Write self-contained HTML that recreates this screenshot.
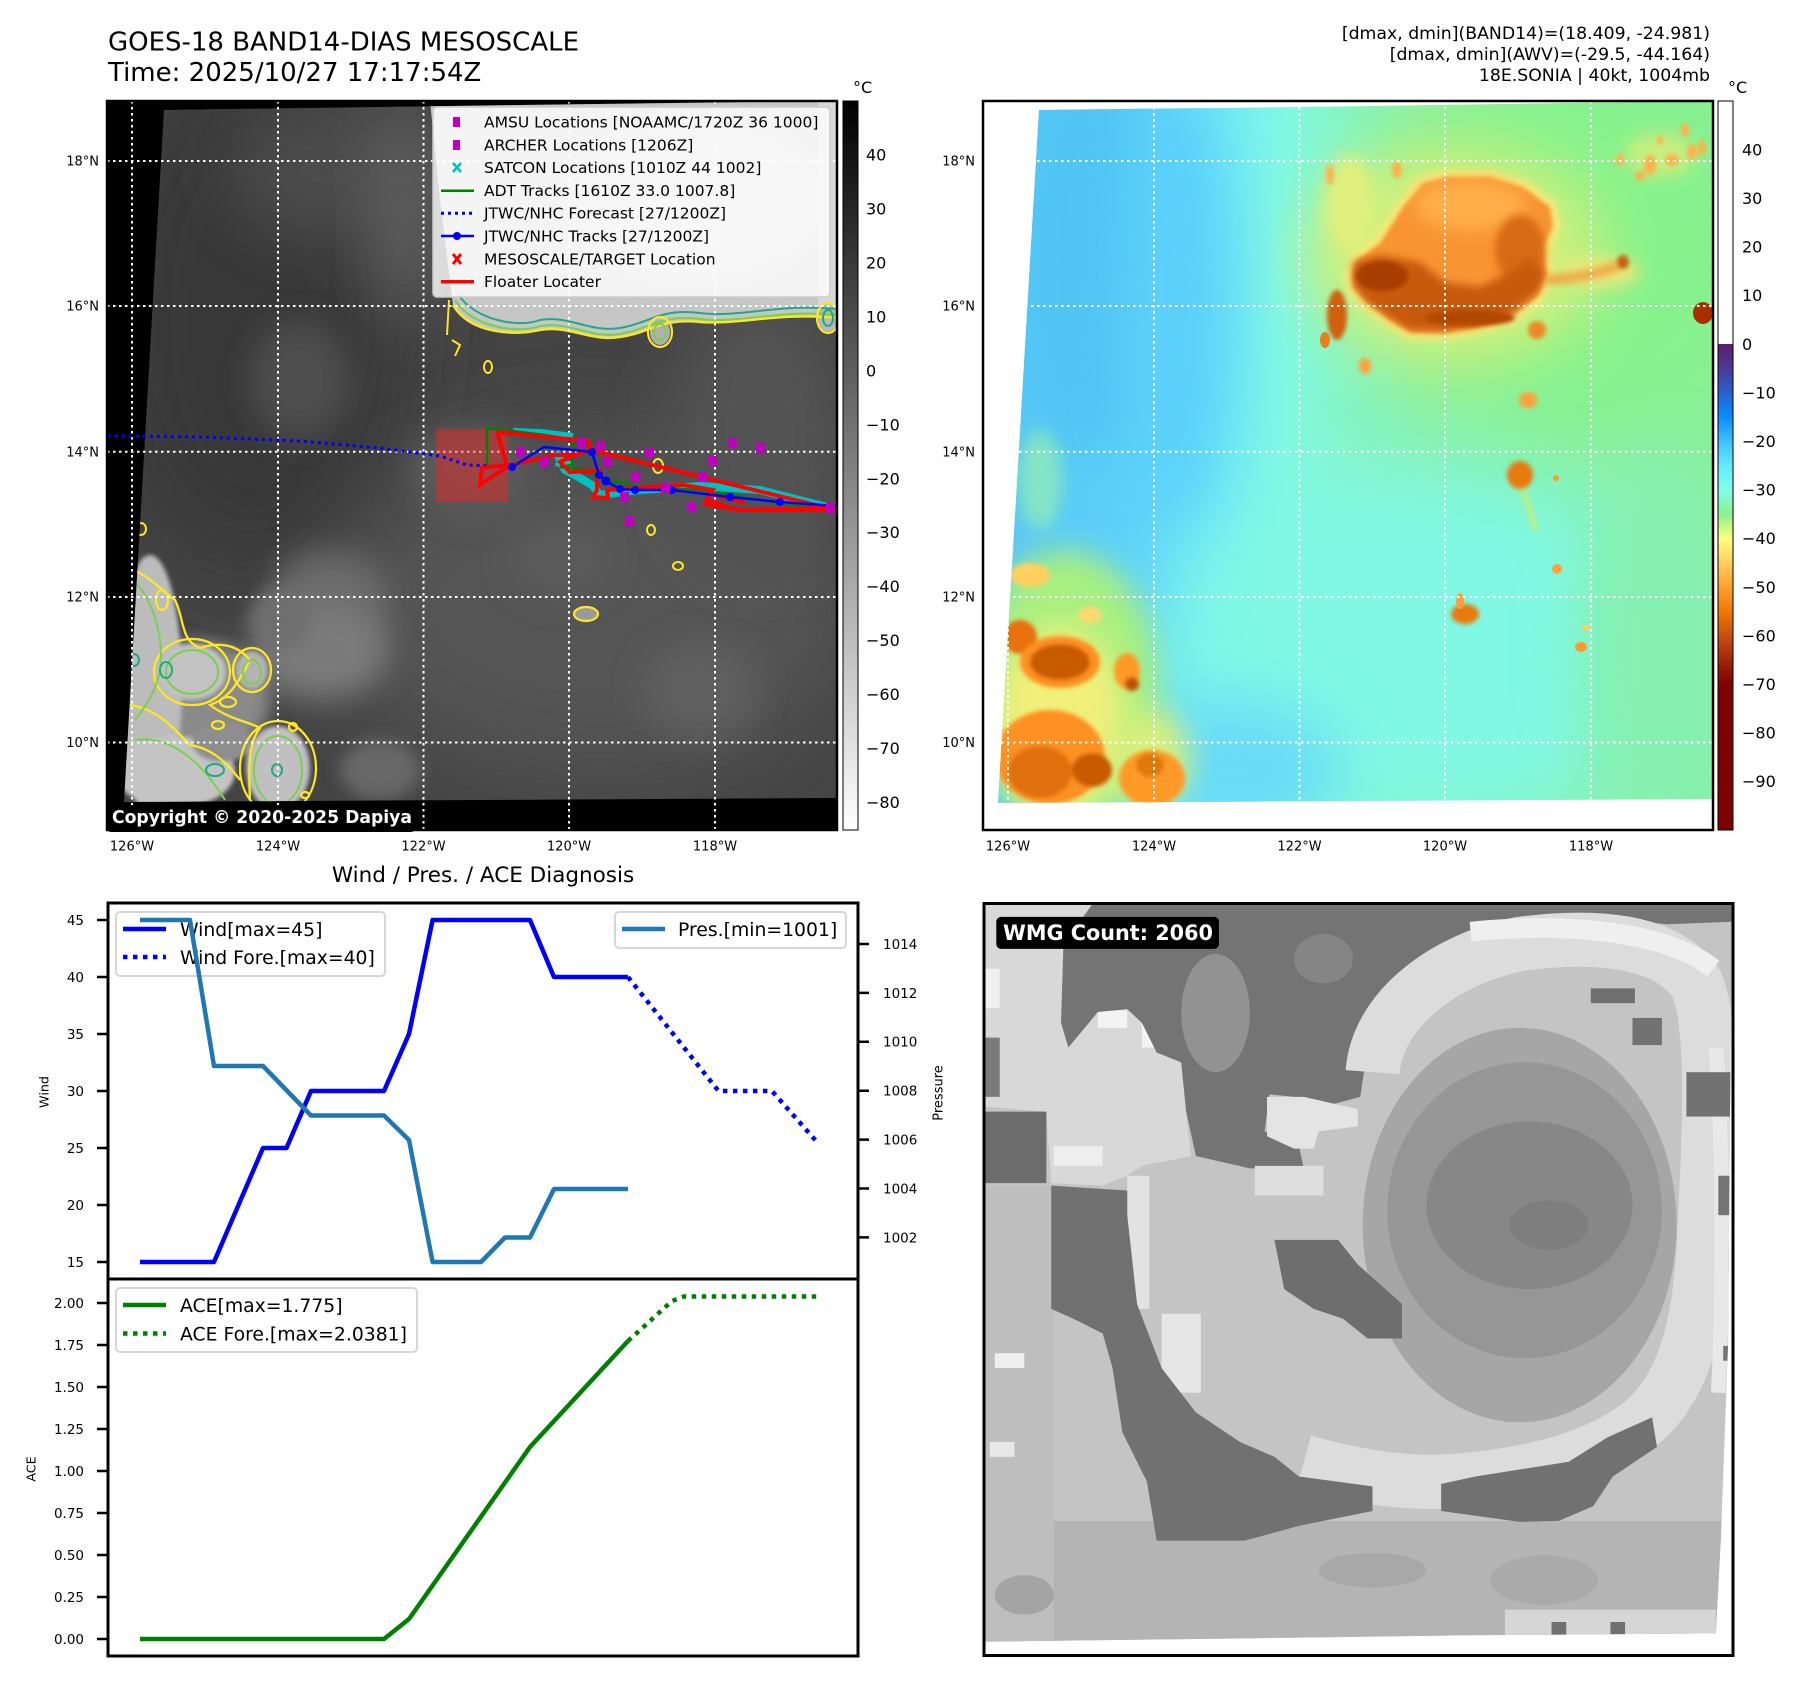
<!DOCTYPE html>
<html><head><meta charset="utf-8">
<style>
html,body{margin:0;padding:0;background:#fff;}
svg{display:block;}
text{font-family:"DejaVu Sans","Liberation Sans",sans-serif;}
</style></head><body>
<svg width="1801" height="1690" viewBox="0 0 1801 1690" xmlns="http://www.w3.org/2000/svg">
<defs>
  <filter id="b2" x="-50%" y="-50%" width="200%" height="200%"><feGaussianBlur stdDeviation="2"/></filter>
  <filter id="b4" x="-50%" y="-50%" width="200%" height="200%"><feGaussianBlur stdDeviation="4"/></filter>
  <filter id="b8" x="-50%" y="-50%" width="200%" height="200%"><feGaussianBlur stdDeviation="8"/></filter>
  <filter id="b15" x="-50%" y="-50%" width="200%" height="200%"><feGaussianBlur stdDeviation="15"/></filter>
  <filter id="b30" x="-50%" y="-50%" width="200%" height="200%"><feGaussianBlur stdDeviation="30"/></filter>
  <filter id="b45" x="-60%" y="-60%" width="220%" height="220%"><feGaussianBlur stdDeviation="45"/></filter>
  <clipPath id="c1"><polygon points="164,110 520,105 837,101 837,798 124,802"/></clipPath>
  <clipPath id="c2"><polygon points="1039,110 1300,107 1712,101 1712,799 998,803"/></clipPath>
  <clipPath id="cw"><polygon points="8,8 1535,8 1530,300 1525,900 1510,1300 1500,1488 1000,1492 400,1500 8,1505"/></clipPath>
  <linearGradient id="gcb1" x1="0" y1="0" x2="0" y2="1">
    <stop offset="0" stop-color="#000"/><stop offset="1" stop-color="#fff"/>
  </linearGradient>
  <linearGradient id="gcb2" x1="0" y1="0" x2="0" y2="1">
    <stop offset="0" stop-color="#fff"/><stop offset="0.333" stop-color="#fff"/>
    <stop offset="0.3334" stop-color="#5c1c6c"/>
    <stop offset="0.3667" stop-color="#4b3a98"/>
    <stop offset="0.4" stop-color="#2a60cc"/>
    <stop offset="0.4333" stop-color="#0a8cff"/>
    <stop offset="0.4667" stop-color="#40c0ff"/>
    <stop offset="0.5" stop-color="#66e8ff"/>
    <stop offset="0.5333" stop-color="#80ffe8"/>
    <stop offset="0.5667" stop-color="#8cf08c"/>
    <stop offset="0.6" stop-color="#ffff80"/>
    <stop offset="0.6333" stop-color="#ffd060"/>
    <stop offset="0.6667" stop-color="#ffa030"/>
    <stop offset="0.7" stop-color="#f07800"/>
    <stop offset="0.7333" stop-color="#c85010"/>
    <stop offset="0.7667" stop-color="#a02808"/>
    <stop offset="0.8" stop-color="#800000"/>
    <stop offset="1" stop-color="#800000"/>
  </linearGradient>
  <linearGradient id="gwv" gradientUnits="userSpaceOnUse" x1="998" y1="0" x2="1712" y2="0">
    <stop offset="0" stop-color="#58c6f4"/>
    <stop offset="0.2" stop-color="#5ed2fa"/>
    <stop offset="0.3" stop-color="#72ecf6"/>
    <stop offset="0.4" stop-color="#80f8e4"/>
    <stop offset="0.5" stop-color="#86f4c0"/>
    <stop offset="0.6" stop-color="#8cf0a4"/>
    <stop offset="1" stop-color="#88f09a"/>
  </linearGradient>
</defs>
<rect width="1801" height="1690" fill="#fff"/>

<!-- Titles -->
<text x="108" y="50.5" font-size="26" textLength="471" lengthAdjust="spacingAndGlyphs">GOES-18 BAND14-DIAS MESOSCALE</text>
<text x="108" y="81" font-size="26">Time: 2025/10/27 17:17:54Z</text>
<text x="1710" y="39" font-size="17.3" text-anchor="end">[dmax, dmin](BAND14)=(18.409, -24.981)</text>
<text x="1710" y="60" font-size="17.3" text-anchor="end">[dmax, dmin](AWV)=(-29.5, -44.164)</text>
<text x="1710" y="81" font-size="17.3" text-anchor="end">18E.SONIA | 40kt, 1004mb</text>

<!-- ================= MAP 1 ================= -->
<rect x="107" y="101" width="730" height="729" fill="#000"/>
<g clip-path="url(#c1)">
  <rect x="100" y="95" width="740" height="712" fill="#444"/>
  <ellipse cx="250" cy="320" rx="150" ry="250" fill="#393939" filter="url(#b45)"/>
  <ellipse cx="330" cy="170" rx="100" ry="70" fill="#4b4b4b" filter="url(#b30)"/>
  <ellipse cx="600" cy="610" rx="260" ry="170" fill="#545454" filter="url(#b45)"/>
  <ellipse cx="760" cy="430" rx="90" ry="140" fill="#535353" filter="url(#b30)"/>
  <ellipse cx="470" cy="470" rx="60" ry="45" fill="#5c5c5c" filter="url(#b15)"/>
  <ellipse cx="300" cy="380" rx="50" ry="60" fill="#4e4e4e" filter="url(#b15)"/>
  <ellipse cx="405" cy="210" rx="35" ry="110" fill="#5e5e5e" filter="url(#b30)"/>
  <ellipse cx="700" cy="690" rx="60" ry="50" fill="#5e5e5e" filter="url(#b15)"/>
  <ellipse cx="560" cy="560" rx="50" ry="40" fill="#5a5a5a" filter="url(#b15)"/>
  <ellipse cx="330" cy="600" rx="60" ry="50" fill="#6a6a6a" filter="url(#b15)"/>
  <!-- bright cloud mass upper right -->
  <path d="M430,101 L837,101 L837,318 C780,312 740,325 700,322 C660,318 650,333 620,337 C590,342 570,325 540,330 C515,336 470,334 453,305 L440,200 Z" fill="#c6c6c6"/>
  <ellipse cx="700" cy="200" rx="130" ry="80" fill="#d4d4d4" filter="url(#b15)"/>
  <rect x="818" y="101" width="19" height="215" fill="#d8d8d8"/>
  <ellipse cx="660" cy="332" rx="10" ry="13" fill="#b0b0b0"/>
  <ellipse cx="828" cy="318" rx="10" ry="14" fill="#b8b8b8"/>
  <path d="M458,294 C475,321 520,328 540,320 C570,315 590,333 620,328 C650,323 660,308 700,313 C740,318 780,303 837,309" fill="none" stroke="#22a884" stroke-width="2"/>
  <path d="M455,300 C472,328 520,334 540,326 C570,321 590,339 620,334 C650,329 660,314 700,319 C740,324 780,309 837,315" fill="none" stroke="#7ad151" stroke-width="2.2"/>
  <path d="M453,305 C470,334 515,336 540,330 C570,325 590,342 620,337 C650,333 660,318 700,322 C740,325 780,312 837,318" fill="none" stroke="#fde725" stroke-width="2.4"/>
  <path d="M449,300 L447,335 M452,340 L460,345 L455,356" fill="none" stroke="#fde725" stroke-width="2"/>
  <ellipse cx="660" cy="332" rx="12" ry="15" fill="none" stroke="#fde725" stroke-width="2.2"/>
  <ellipse cx="660" cy="332" rx="6" ry="8" fill="none" stroke="#7ad151" stroke-width="2"/>
  <ellipse cx="828" cy="318" rx="11" ry="15" fill="none" stroke="#fde725" stroke-width="2.2"/>
  <ellipse cx="828" cy="318" rx="5" ry="8" fill="none" stroke="#22a884" stroke-width="2"/>
  <ellipse cx="488" cy="367" rx="4" ry="6" fill="none" stroke="#fde725" stroke-width="2"/>
  <ellipse cx="586" cy="614" rx="12" ry="7" fill="#9a9a9a" stroke="#fde725" stroke-width="2.2"/>
  <ellipse cx="651" cy="530" rx="4" ry="5" fill="none" stroke="#fde725" stroke-width="2"/>
  <ellipse cx="678" cy="566" rx="5" ry="4" fill="none" stroke="#fde725" stroke-width="2"/>
  <ellipse cx="141" cy="529" rx="5" ry="6" fill="none" stroke="#fde725" stroke-width="2"/>
  <ellipse cx="658" cy="466" rx="5" ry="7" fill="none" stroke="#fde725" stroke-width="2"/>
  <!-- bottom-left clouds -->
  <ellipse cx="320" cy="650" rx="70" ry="50" fill="#7a7a7a" filter="url(#b15)"/>
  <ellipse cx="380" cy="770" rx="40" ry="30" fill="#686868" filter="url(#b8)"/>
  <ellipse cx="280" cy="620" rx="30" ry="30" fill="#6e6e6e" filter="url(#b8)"/>
  <ellipse cx="200" cy="700" rx="70" ry="60" fill="#8a8a8a" filter="url(#b8)"/>
  <g filter="url(#b2)">
    <ellipse cx="150" cy="685" rx="32" ry="130" fill="#bcbcbc"/>
    <ellipse cx="192" cy="672" rx="34" ry="28" fill="#c2c2c2"/>
    <ellipse cx="175" cy="772" rx="60" ry="36" fill="#c4c4c4"/>
    <ellipse cx="278" cy="768" rx="32" ry="42" fill="#c0c0c0"/>
    <ellipse cx="252" cy="670" rx="16" ry="19" fill="#b4b4b4"/>
    <ellipse cx="222" cy="742" rx="30" ry="20" fill="#8e8e8e"/>
  </g>
  <g fill="none" stroke="#fde725" stroke-width="2.3">
    <path d="M128,568 C150,575 160,590 175,600 C185,620 180,640 200,648 C225,640 240,648 250,660 C235,690 225,700 210,705 C230,720 250,722 260,728 C250,740 248,760 250,800"/>
    <ellipse cx="192" cy="672" rx="38" ry="33"/>
    <ellipse cx="278" cy="768" rx="38" ry="47"/>
    <ellipse cx="252" cy="670" rx="19" ry="22"/>
    <path d="M130,705 C160,710 175,730 190,745 C210,748 225,760 240,780"/>
    <ellipse cx="228" cy="702" rx="8" ry="5"/>
    <ellipse cx="218" cy="725" rx="6" ry="4"/>
    <ellipse cx="293" cy="727" rx="4" ry="4"/>
    <ellipse cx="305" cy="795" rx="4" ry="3"/>
    <ellipse cx="162" cy="600" rx="6" ry="10"/>
  </g>
  <g fill="none" stroke="#7ad151" stroke-width="2">
    <path d="M132,580 C145,590 155,610 160,640 C165,680 150,700 135,720"/>
    <ellipse cx="192" cy="672" rx="26" ry="22"/>
    <ellipse cx="278" cy="770" rx="24" ry="34"/>
    <ellipse cx="252" cy="672" rx="9" ry="12"/>
    <path d="M135,740 C170,735 200,760 225,800"/>
  </g>
  <g fill="none" stroke="#22a884" stroke-width="2">
    <ellipse cx="166" cy="670" rx="6" ry="8"/>
    <ellipse cx="215" cy="770" rx="9" ry="6"/>
    <ellipse cx="277" cy="770" rx="5" ry="6"/>
    <ellipse cx="134" cy="660" rx="5" ry="6"/>
  </g>
</g>
<g stroke="#fff" stroke-width="2" stroke-dasharray="2.5 3.5" fill="none">
  <path d="M132,101 V830 M278,101 V830 M423.5,101 V830 M569,101 V830 M715,101 V830"/>
  <path d="M107,161 H837 M107,306 H837 M107,451.7 H837 M107,597 H837 M107,742.5 H837"/>
</g>
<rect x="436" y="429" width="72" height="73" fill="#ff2020" fill-opacity="0.42"/>
<path d="M513,432 L540,433 L573,437 M556,452 L565,470 L580,478 L592,485 L600,495 L640,490 L700,486 L760,490 L835,509 M556,462 L572,466" fill="none" stroke="#00c0c0" stroke-width="8" stroke-linejoin="round"/>
<path d="M487,465 L487,428 L545,435 L575,440 L572,465 L560,467 L587,470 L600,478 L640,487 L700,490 L760,500 L800,506 L836,508" fill="none" stroke="#008000" stroke-width="2.5"/>
<path d="M108,436 L200,437 L300,441 L380,448 L440,456 L467,465 L512,467" fill="none" stroke="#0000ff" stroke-width="3" stroke-dasharray="3 4"/>
<g stroke="#ff0000" stroke-width="4" fill="none" stroke-linejoin="miter">
  <path d="M497,432 L588,441 L591,450 L836,510 L740,510 L705,504 L710,494 L745,503"/>
  <path d="M575,455 L560,462 L570,472 L600,471 L597,480 L597,490 L593,497 L608,498 L607,490 L633,488 L683,485 L713,490 L707,500 L737,510 L836,508"/>
  <path d="M497,432 L507,465 L482,468 L480,485 L490,478 L510,465 L555,455 L575,455 L590,450"/>
</g>
<g fill="none" stroke="#0000ff" stroke-width="2.5">
  <path d="M512,467 L544,447 L592,452 L599,475 L606,481 L620,489 L635,490 L672,490 L730,497 L780,502 L836,506"/>
</g>
<g fill="#0000ff">
  <circle cx="512" cy="467" r="4"/><circle cx="592" cy="452" r="4"/><circle cx="599" cy="475" r="4"/>
  <circle cx="606" cy="481" r="4.5"/><circle cx="620" cy="489" r="4"/><circle cx="635" cy="490" r="4"/>
  <circle cx="672" cy="490" r="4"/><circle cx="730" cy="497" r="4"/><circle cx="780" cy="502" r="4"/>
</g>
<g fill="#bf00bf">
  <rect x="516" y="447" width="9" height="10"/><rect x="540" y="457" width="9" height="10"/>
  <rect x="577" y="438" width="9" height="10"/><rect x="596" y="441" width="9" height="10"/>
  <rect x="603" y="457" width="9" height="10"/><rect x="631" y="472" width="9" height="10"/>
  <rect x="645" y="448" width="9" height="10"/><rect x="620" y="492" width="9" height="10"/>
  <rect x="625" y="516" width="9" height="10"/><rect x="661" y="483" width="9" height="10"/>
  <rect x="687" y="502" width="9" height="10"/><rect x="698" y="472" width="9" height="10"/>
  <rect x="708" y="456" width="9" height="10"/><rect x="728" y="438" width="9" height="10"/>
  <rect x="756" y="443" width="9" height="10"/><rect x="826" y="503" width="9" height="10"/>
</g>
<rect x="433" y="107" width="397" height="190" rx="4" fill="#fff" fill-opacity="0.8" stroke="#cccccc" stroke-width="1.5"/>
<g font-size="15.5" fill="#000">
  <text x="484" y="127.5">AMSU Locations [NOAAMC/1720Z 36 1000]</text>
  <text x="484" y="150.5">ARCHER Locations [1206Z]</text>
  <text x="484" y="173">SATCON Locations [1010Z 44 1002]</text>
  <text x="484" y="196">ADT Tracks [1610Z 33.0 1007.8]</text>
  <text x="484" y="218.5">JTWC/NHC Forecast [27/1200Z]</text>
  <text x="484" y="241.5">JTWC/NHC Tracks [27/1200Z]</text>
  <text x="484" y="264.5">MESOSCALE/TARGET Location</text>
  <text x="484" y="287">Floater Locater</text>
</g>
<rect x="453" y="117" width="7" height="10" fill="#bf00bf"/>
<rect x="453" y="140" width="7" height="10" fill="#bf00bf"/>
<path d="M453,163 L461,172 M461,163 L453,172" stroke="#00c0c0" stroke-width="2.5"/>
<path d="M441,190.7 H474" stroke="#008000" stroke-width="2.5"/>
<path d="M441,213.3 H474" stroke="#0000ff" stroke-width="3" stroke-dasharray="3 4"/>
<path d="M441,236 H474" stroke="#0000ff" stroke-width="2.5"/><circle cx="457" cy="236" r="4" fill="#0000ff"/>
<path d="M453,254 L461,264 M461,254 L453,264" stroke="#ff0000" stroke-width="3"/>
<path d="M441,281.7 H474" stroke="#ff0000" stroke-width="3.5"/>
<rect x="107" y="805" width="308" height="27" rx="4" fill="#000"/>
<text x="112" y="823" font-size="18" font-weight="bold" fill="#fff" textLength="300" lengthAdjust="spacingAndGlyphs">Copyright © 2020-2025 Dapiya</text>
<rect x="107" y="101" width="730" height="729" fill="none" stroke="#000" stroke-width="2.5"/>
<g font-size="13" fill="#000">
  <text x="99" y="165.7" text-anchor="end">18°N</text>
  <text x="99" y="310.7" text-anchor="end">16°N</text>
  <text x="99" y="456.4" text-anchor="end">14°N</text>
  <text x="99" y="601.7" text-anchor="end">12°N</text>
  <text x="99" y="747.2" text-anchor="end">10°N</text>
  <text x="132" y="850.7" text-anchor="middle">126°W</text>
  <text x="278" y="850.7" text-anchor="middle">124°W</text>
  <text x="423.5" y="850.7" text-anchor="middle">122°W</text>
  <text x="569" y="850.7" text-anchor="middle">120°W</text>
  <text x="715" y="850.7" text-anchor="middle">118°W</text>
</g>
<rect x="843" y="101" width="15" height="729" fill="url(#gcb1)" stroke="#000" stroke-width="1"/>
<text x="853" y="93" font-size="16">°C</text>
<g font-size="16" fill="#000">
  <text x="866" y="160.7">40</text><text x="866" y="214.7">30</text><text x="866" y="268.6">20</text>
  <text x="866" y="322.5">10</text><text x="866" y="376.5">0</text><text x="866" y="430.4">−10</text>
  <text x="866" y="484.3">−20</text><text x="866" y="538.2">−30</text><text x="866" y="592.2">−40</text>
  <text x="866" y="646.1">−50</text><text x="866" y="700">−60</text><text x="866" y="753.9">−70</text>
  <text x="866" y="807.9">−80</text>
</g>

<!-- ================= MAP 2 ================= -->
<rect x="983" y="101" width="730" height="729" fill="#fff"/>
<g clip-path="url(#c2)">
  <rect x="990" y="95" width="730" height="712" fill="url(#gwv)"/>
  <ellipse cx="1430" cy="650" rx="260" ry="190" fill="#80f8e4" filter="url(#b45)"/>
  <ellipse cx="1230" cy="770" rx="110" ry="70" fill="#68dcf8" filter="url(#b30)"/>
  <ellipse cx="1090" cy="260" rx="80" ry="200" fill="#50c4f4" filter="url(#b30)"/>
  <ellipse cx="1175" cy="300" rx="55" ry="230" fill="#5ad0fa" filter="url(#b30)"/>
  <ellipse cx="1580" cy="240" rx="190" ry="190" fill="#86f28c" filter="url(#b45)"/>
  <ellipse cx="1660" cy="650" rx="80" ry="200" fill="#86f0b0" filter="url(#b30)"/>
  <ellipse cx="1455" cy="255" rx="150" ry="110" fill="#d0f07c" filter="url(#b30)"/>
  <ellipse cx="1065" cy="690" rx="95" ry="140" fill="#a8f080" filter="url(#b15)"/>
  <ellipse cx="1060" cy="720" rx="65" ry="95" fill="#f0f07a" filter="url(#b15)"/>
  <ellipse cx="1150" cy="760" rx="40" ry="50" fill="#d8f07a" filter="url(#b15)"/>
  <ellipse cx="1040" cy="480" rx="22" ry="50" fill="#98f0b0" opacity="0.7" filter="url(#b8)"/>
  <ellipse cx="1660" cy="155" rx="35" ry="22" fill="#d8ee7c" opacity="0.8" filter="url(#b8)"/>
  <ellipse cx="1350" cy="205" rx="25" ry="50" fill="#e0f07c" filter="url(#b8)"/>
  <ellipse cx="1600" cy="272" rx="40" ry="14" fill="#f0e878" filter="url(#b8)"/>
  <!-- main convective blob -->
  <path d="M1352,273 L1357,260 L1380,243 L1403,207 L1423,183 L1447,177 L1490,177 L1523,187 L1550,207 L1553,227 L1543,247 L1547,273 L1537,297 L1510,317 L1477,327 L1443,333 L1410,332 L1390,320 L1367,303 L1353,287 Z" fill="none" stroke="#f8e878" stroke-width="14" filter="url(#b4)"/>
  <path d="M1352,273 L1357,260 L1380,243 L1403,207 L1423,183 L1447,177 L1490,177 L1523,187 L1550,207 L1553,227 L1543,247 L1547,273 L1537,297 L1510,317 L1477,327 L1443,333 L1410,332 L1390,320 L1367,303 L1353,287 Z" fill="#f89430" filter="url(#b2)"/>
  <path d="M1545,280 C1570,279 1595,275 1620,265" stroke="#f0a040" stroke-width="9" fill="none" filter="url(#b4)"/>
  <ellipse cx="1470" cy="205" rx="55" ry="25" fill="#ffae48" filter="url(#b8)"/>
  <ellipse cx="1520" cy="250" rx="25" ry="35" fill="#d86a14" filter="url(#b4)"/>
  <path d="M1353,262 L1380,255 L1420,262 L1445,282 L1480,287 L1510,272 L1530,258 L1545,272 L1540,290 L1510,315 L1477,326 L1443,331 L1410,330 L1390,318 L1367,302 L1354,286 Z" fill="#c85a0c" filter="url(#b4)"/>
  <ellipse cx="1382" cy="276" rx="26" ry="15" fill="#a83c00" filter="url(#b2)"/>
  <ellipse cx="1470" cy="318" rx="45" ry="8" fill="#b04800" filter="url(#b2)"/>
  <ellipse cx="1623" cy="262" rx="6" ry="7" fill="#c86010" filter="url(#b2)"/>
  <ellipse cx="1337" cy="315" rx="10" ry="25" fill="#d06010" filter="url(#b2)"/>
  <ellipse cx="1325" cy="340" rx="5" ry="8" fill="#e88020"/>
  <ellipse cx="1703" cy="313" rx="10" ry="11" fill="#a83000"/>
  <ellipse cx="1537" cy="330" rx="9" ry="9" fill="#f08828" filter="url(#b2)"/>
  <ellipse cx="1365" cy="366" rx="6" ry="8" fill="#ffa040" filter="url(#b2)"/>
  <ellipse cx="1528" cy="400" rx="9" ry="8" fill="#ffa040" filter="url(#b2)"/>
  <g fill="#ffb048" filter="url(#b2)">
    <ellipse cx="1650" cy="165" rx="6" ry="10"/><ellipse cx="1672" cy="160" rx="7" ry="6"/>
    <ellipse cx="1692" cy="152" rx="5" ry="8"/><ellipse cx="1640" cy="176" rx="5" ry="5"/>
    <ellipse cx="1702" cy="148" rx="4" ry="8"/><ellipse cx="1620" cy="160" rx="4" ry="6"/>
    <ellipse cx="1397" cy="170" rx="5" ry="8"/><ellipse cx="1330" cy="175" rx="4" ry="10"/>
    <ellipse cx="1685" cy="130" rx="4" ry="7"/><ellipse cx="1660" cy="140" rx="3" ry="5"/>
  </g>
  <!-- lower blobs -->
  <path d="M1520,480 C1525,500 1533,515 1535,530" stroke="#b8f088" stroke-width="6" fill="none" filter="url(#b2)"/>
  <ellipse cx="1520" cy="475" rx="13" ry="14" fill="#e87a10" filter="url(#b2)"/>
  <ellipse cx="1556" cy="478" rx="3" ry="3" fill="#ff9a30"/>
  <ellipse cx="1557" cy="569" rx="5" ry="5" fill="#ffa040"/>
  <ellipse cx="1465" cy="614" rx="14" ry="10" fill="#e87a10" filter="url(#b2)"/>
  <ellipse cx="1460" cy="601" rx="4" ry="8" fill="#ffa040"/>
  <ellipse cx="1581" cy="647" rx="6" ry="5" fill="#ff9a30"/>
  <ellipse cx="1586" cy="628" rx="4" ry="3" fill="#ffd060"/>
  <g filter="url(#b2)">
    <ellipse cx="1020" cy="637" rx="17" ry="17" fill="#e87010"/>
    <ellipse cx="1060" cy="662" rx="40" ry="26" fill="#ff9020"/>
    <ellipse cx="1060" cy="662" rx="30" ry="18" fill="#c85a00"/>
    <ellipse cx="1050" cy="757" rx="55" ry="47" fill="#ff9020"/>
    <ellipse cx="1040" cy="772" rx="32" ry="26" fill="#e07010"/>
    <ellipse cx="1092" cy="770" rx="20" ry="17" fill="#c85a00"/>
    <ellipse cx="1152" cy="778" rx="33" ry="28" fill="#ff9a28"/>
    <ellipse cx="1150" cy="765" rx="14" ry="12" fill="#e07810"/>
    <ellipse cx="1127" cy="671" rx="13" ry="18" fill="#ff9a28"/>
    <ellipse cx="1132" cy="684" rx="7" ry="7" fill="#c05000"/>
    <ellipse cx="1030" cy="575" rx="20" ry="12" fill="#ffd060"/>
    <ellipse cx="1090" cy="615" rx="12" ry="8" fill="#ffd870"/>
  </g>
</g>
<g stroke="#fff" stroke-width="2" stroke-dasharray="2.5 3.5" fill="none">
  <path d="M1008,101 V830 M1154,101 V830 M1299.5,101 V830 M1445,101 V830 M1591,101 V830"/>
  <path d="M983,161 H1713 M983,306 H1713 M983,451.7 H1713 M983,597 H1713 M983,742.5 H1713"/>
</g>
<rect x="983" y="101" width="730" height="729" fill="none" stroke="#000" stroke-width="2.5"/>
<g font-size="13" fill="#000">
  <text x="975" y="165.7" text-anchor="end">18°N</text>
  <text x="975" y="310.7" text-anchor="end">16°N</text>
  <text x="975" y="456.4" text-anchor="end">14°N</text>
  <text x="975" y="601.7" text-anchor="end">12°N</text>
  <text x="975" y="747.2" text-anchor="end">10°N</text>
  <text x="1008" y="850.7" text-anchor="middle">126°W</text>
  <text x="1154" y="850.7" text-anchor="middle">124°W</text>
  <text x="1299.5" y="850.7" text-anchor="middle">122°W</text>
  <text x="1445" y="850.7" text-anchor="middle">120°W</text>
  <text x="1591" y="850.7" text-anchor="middle">118°W</text>
</g>
<rect x="1718" y="101" width="15" height="729" fill="url(#gcb2)" stroke="#000" stroke-width="1"/>
<text x="1728" y="93" font-size="16">°C</text>
<g font-size="16" fill="#000">
  <text x="1742" y="155.4">40</text><text x="1742" y="204">30</text><text x="1742" y="252.6">20</text>
  <text x="1742" y="301.2">10</text><text x="1742" y="349.8">0</text><text x="1742" y="398.4">−10</text>
  <text x="1742" y="447">−20</text><text x="1742" y="495.6">−30</text><text x="1742" y="544.2">−40</text>
  <text x="1742" y="592.8">−50</text><text x="1742" y="641.4">−60</text><text x="1742" y="690">−70</text>
  <text x="1742" y="738.6">−80</text><text x="1742" y="787.2">−90</text>
</g>

<!-- ================= WIND / PRES / ACE ================= -->
<text x="483" y="882" font-size="21.5" text-anchor="middle">Wind / Pres. / ACE Diagnosis</text>
<g stroke="#000" stroke-width="2.5">
  <path d="M97,920 H108 M97,977 H108 M97,1034 H108 M97,1091 H108 M97,1148 H108 M97,1205 H108 M97,1262 H108"/>
  <path d="M858,944 H869 M858,992.9 H869 M858,1041.8 H869 M858,1090.7 H869 M858,1139.6 H869 M858,1188.5 H869 M858,1237.4 H869"/>
  <path d="M97,1303 H108 M97,1345 H108 M97,1387 H108 M97,1429 H108 M97,1471 H108 M97,1513 H108 M97,1555 H108 M97,1597 H108 M97,1639 H108"/>
</g>
<g font-size="13.5" fill="#000" text-anchor="end">
  <text x="84" y="924.9">45</text><text x="84" y="981.9">40</text><text x="84" y="1038.9">35</text>
  <text x="84" y="1095.9">30</text><text x="84" y="1152.9">25</text><text x="84" y="1209.9">20</text>
  <text x="84" y="1266.9">15</text>
  <text x="84" y="1307.9">2.00</text><text x="84" y="1349.9">1.75</text><text x="84" y="1391.9">1.50</text>
  <text x="84" y="1433.9">1.25</text><text x="84" y="1475.9">1.00</text><text x="84" y="1517.9">0.75</text>
  <text x="84" y="1559.9">0.50</text><text x="84" y="1601.9">0.25</text><text x="84" y="1643.9">0.00</text>
</g>
<g font-size="13.5" fill="#000">
  <text x="883" y="948.9">1014</text><text x="883" y="997.8">1012</text><text x="883" y="1046.7">1010</text>
  <text x="883" y="1095.6">1008</text><text x="883" y="1144.5">1006</text><text x="883" y="1193.4">1004</text>
  <text x="883" y="1242.3">1002</text>
</g>
<text transform="translate(48.5,1092) rotate(-90)" font-size="12.7" text-anchor="middle">Wind</text>
<text transform="translate(35.5,1469) rotate(-90)" font-size="12.7" text-anchor="middle">ACE</text>
<text transform="translate(942.5,1093) rotate(-90)" font-size="13" text-anchor="middle">Pressure</text>

<polyline points="140,1262 214,1262 263,1148 286.5,1148 311,1091 384,1091 409,1034 432.6,920 530,920 554,977 628,977" fill="none" stroke="#0000ff" stroke-width="4.5" stroke-linejoin="round"/>
<polyline points="628,977 718.5,1091 772,1091 817,1142" fill="none" stroke="#0000ff" stroke-width="4.5" stroke-dasharray="4.5 5.5"/>
<rect x="116" y="912" width="269" height="64" rx="4" fill="#fff" fill-opacity="0.8" stroke="#d6d6d6" stroke-width="2"/>
<path d="M123,929 H166" stroke="#0000ff" stroke-width="4.5"/>
<path d="M123,957 H166" stroke="#0000ff" stroke-width="4.5" stroke-dasharray="4.5 5.5"/>
<text x="180" y="936" font-size="18.8">Wind[max=45]</text>
<text x="180" y="964" font-size="18.8">Wind Fore.[max=40]</text>
<polyline points="140,920 190,920 214,1066 263,1066 311,1115.5 384,1115.5 409,1140 432.6,1262 481,1262 505,1237.5 530,1237.5 554,1189 628,1189" fill="none" stroke="#1f77b4" stroke-width="4.5" stroke-linejoin="round"/>
<rect x="615" y="912" width="231" height="36" rx="4" fill="#fff" fill-opacity="0.8" stroke="#d6d6d6" stroke-width="2"/>
<path d="M622,929 H665" stroke="#1f77b4" stroke-width="4.5"/>
<text x="678" y="936" font-size="18.8">Pres.[min=1001]</text>
<polyline points="140,1639 384,1639 409,1619 530,1447 628,1341" fill="none" stroke="#008000" stroke-width="4.5" stroke-linejoin="round"/>
<polyline points="628,1341 672,1301 684,1296.5 820,1296.5" fill="none" stroke="#008000" stroke-width="4.5" stroke-dasharray="4.5 5.5"/>
<rect x="116" y="1288" width="301" height="64" rx="4" fill="#fff" fill-opacity="0.8" stroke="#d6d6d6" stroke-width="2"/>
<path d="M123,1305 H166" stroke="#008000" stroke-width="4.5"/>
<path d="M123,1333.5 H166" stroke="#008000" stroke-width="4.5" stroke-dasharray="4.5 5.5"/>
<text x="180" y="1312" font-size="18.8">ACE[max=1.775]</text>
<text x="180" y="1340.5" font-size="18.8">ACE Fore.[max=2.0381]</text>
<rect x="108" y="903" width="750" height="376" fill="none" stroke="#000" stroke-width="3"/>
<rect x="108" y="1279" width="750" height="377" fill="none" stroke="#000" stroke-width="3"/>

<!-- ================= WMG PANEL ================= -->
<g transform="translate(980.1,899.6) scale(0.4905,0.4931)">
 <g clip-path="url(#cw)">
  <rect x="0" y="0" width="1545" height="1545" fill="#c4c4c4"/>
  <rect x="0" y="1260" width="1545" height="300" fill="#b4b4b4"/>
  <rect x="0" y="580" width="150" height="950" fill="#bebebe"/>
  <ellipse cx="90" cy="1410" rx="60" ry="40" fill="#a4a4a4"/>
  <ellipse cx="800" cy="1360" rx="110" ry="35" fill="#a8a8a8"/>
  <ellipse cx="1150" cy="1380" rx="110" ry="50" fill="#aaaaaa"/>
  <rect x="1070" y="1440" width="430" height="60" fill="#d6d6d6"/>
  <rect x="1165" y="1465" width="30" height="30" fill="#707070"/>
  <rect x="1285" y="1465" width="30" height="30" fill="#707070"/>
  <rect x="30" y="920" width="60" height="30" fill="#eeeeee"/>
  <rect x="20" y="1100" width="50" height="30" fill="#e8e8e8"/>
  <polygon points="8,8 230,8 170,90 165,250 180,300 240,228 300,222 330,250 360,310 410,330 420,430 430,520 330,540 300,560 250,580 145,575 135,430 8,420" fill="#d8d8d8"/>
  <rect x="10" y="140" width="30" height="80" fill="#f0f0f0"/>
  <rect x="240" y="225" width="60" height="35" fill="#f4f4f4"/>
  <rect x="330" y="250" width="30" height="50" fill="#f4f4f4"/>
  <rect x="150" y="500" width="100" height="40" fill="#eeeeee"/>
  <rect x="8" y="280" width="32" height="120" fill="#7a7a7a"/>
  <rect x="8" y="430" width="127" height="145" fill="#6c6c6c"/>
  <polygon points="230,8 1535,8 1535,45 1400,50 1300,40 1100,40 1000,70 950,130 910,180 820,245 790,300 775,400 700,420 640,400 590,395 580,470 650,500 660,545 550,545 440,520 420,430 410,330 360,310 330,250 300,222 240,228 180,300 165,250 170,90" fill="#747474"/>
  <ellipse cx="480" cy="230" rx="70" ry="120" fill="#929292"/>
  <ellipse cx="700" cy="120" rx="60" ry="50" fill="#858585"/>
  <polygon points="585,400 660,400 770,425 770,460 690,470 680,505 640,505 585,480" fill="#e4e4e4"/>
  <path d="M800,350 C810,220 950,120 1100,90 C1250,70 1400,80 1460,170 C1500,260 1485,500 1475,700 C1465,900 1420,1000 1350,1060 C1250,1140 1100,1170 950,1180 C850,1185 750,1165 660,1140" fill="none" stroke="#dcdcdc" stroke-width="110"/>
  <path d="M1000,65 C1200,45 1400,65 1495,140" fill="none" stroke="#efefef" stroke-width="40"/>
  <path d="M1500,300 C1515,500 1515,800 1505,1000" fill="none" stroke="#e8e8e8" stroke-width="30"/>
  <ellipse cx="1100" cy="660" rx="320" ry="400" fill="#a6a6a6"/>
  <ellipse cx="1110" cy="630" rx="280" ry="300" fill="#969696"/>
  <ellipse cx="1120" cy="620" rx="210" ry="170" fill="#878787"/>
  <ellipse cx="1160" cy="660" rx="80" ry="50" fill="#7e7e7e"/>
  <rect x="300" y="560" width="45" height="270" fill="#e2e2e2"/>
  <rect x="560" y="540" width="140" height="60" fill="#dedede"/>
  <rect x="370" y="840" width="80" height="160" fill="#e6e6e6"/>
  <polygon points="145,580 300,590 300,640 320,820 370,950 440,1040 530,1100 600,1130 650,1170 800,1190 800,1240 650,1270 540,1300 360,1300 340,1180 290,1080 270,950 250,880 190,850 145,830" fill="#717171"/>
  <polygon points="600,690 730,690 770,740 860,820 860,890 790,890 740,850 680,830 620,790" fill="#6e6e6e"/>
  <polygon points="940,1185 1010,1170 1200,1140 1280,1090 1370,1050 1380,1110 1290,1170 1250,1230 1180,1260 1100,1262 940,1240" fill="#717171"/>
  <rect x="1245" y="180" width="90" height="30" fill="#707070"/>
  <rect x="1330" y="240" width="60" height="55" fill="#727272"/>
  <rect x="1440" y="350" width="90" height="90" fill="#727272"/>
  <rect x="1505" y="560" width="30" height="80" fill="#747474"/>
  <rect x="1515" y="905" width="20" height="30" fill="#747474"/>
 </g>
 <rect x="33" y="35" width="454" height="65" rx="10" fill="#000"/>
</g>
<text x="1003" y="940" font-size="21.5" font-weight="bold" fill="#fff" textLength="210" lengthAdjust="spacingAndGlyphs">WMG Count: 2060</text>
<rect x="984" y="903.5" width="749" height="752" fill="none" stroke="#000" stroke-width="3"/>
</svg>
</body></html>
